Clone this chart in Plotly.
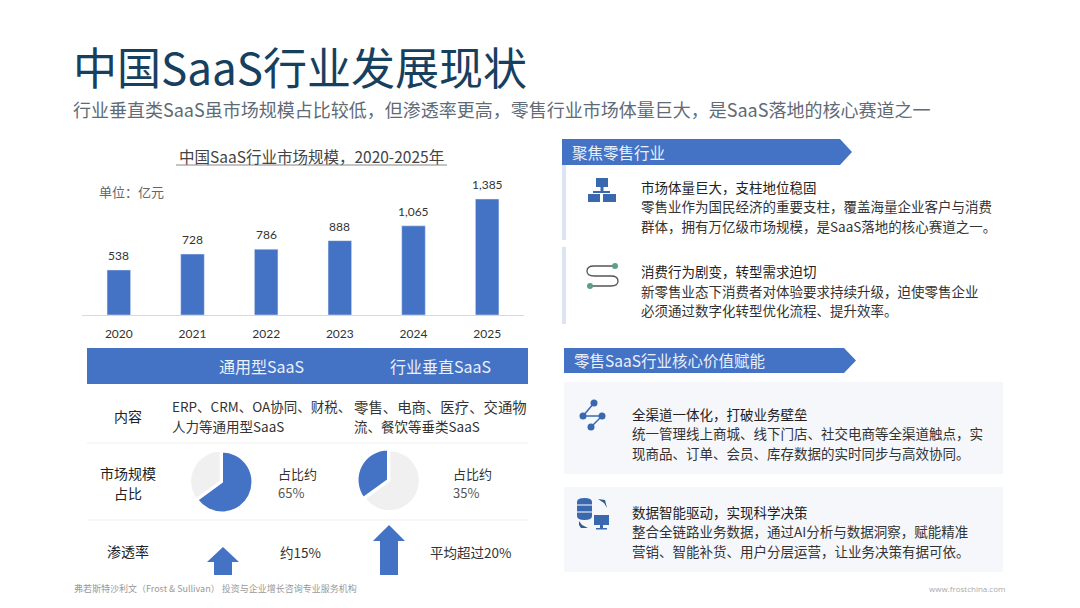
import plotly.graph_objects as go

years = ["2020", "2021", "2022", "2023", "2024", "2025"]
market_size = [538, 728, 786, 888, 1065, 1385]
value_labels = ["538", "728", "786", "888", "1,065", "1,385"]
general_share = [65, 35]
vertical_share = [35, 65]

W, H = 1080, 608
BLUE = "#4472C4"
ICON = "#3A68AE"
TEAL = "#5E9E8E"
CJK = "Noto Sans CJK SC"


def fx(x):
    return x / W


def fy(y):
    return 1 - y / H


def pt(x, y):
    return f"{fx(x):.5f},{fy(y):.5f}"


def poly(points):
    return "M" + " L".join(pt(x, y) for x, y in points) + " Z"


annotations = []
shapes = []


def txt(x, y, s, size=13.5, color="#333333", anchor="left", font=CJK):
    annotations.append(dict(
        xref="paper", yref="paper", x=fx(x), y=fy(y), text=s, showarrow=False,
        xanchor=anchor, yanchor="middle", font=dict(family=font, size=size, color=color),
    ))


def rect(x0, y0, x1, y1, color):
    shapes.append(dict(type="rect", xref="paper", yref="paper", x0=fx(x0), x1=fx(x1),
                       y0=fy(y0), y1=fy(y1), fillcolor=color, line_width=0, layer="below"))


def line(x0, y0, x1, y1, color, width=1):
    shapes.append(dict(type="line", xref="paper", yref="paper", x0=fx(x0), x1=fx(x1),
                       y0=fy(y0), y1=fy(y1), line=dict(color=color, width=width)))


def dot(cx, cy, r, color):
    shapes.append(dict(type="circle", xref="paper", yref="paper", x0=fx(cx - r), x1=fx(cx + r),
                       y0=fy(cy - r), y1=fy(cy + r), fillcolor=color, line_width=0))


def path(d, fill=None, color=None, width=0):
    shapes.append(dict(type="path", xref="paper", yref="paper", path=d, fillcolor=fill,
                       line=dict(color=color, width=width)))


def banner(x0, y0, x1, y1):
    mid = (y0 + y1) / 2
    path(poly([(x0, y0), (x1 - 12, y0), (x1, mid), (x1 - 12, y1), (x0, y1)]), fill=BLUE)


def up_arrow(cx, tip, base, bottom):
    path(poly([(cx, tip), (cx + 16, base), (cx + 9, base), (cx + 9, bottom),
               (cx - 9, bottom), (cx - 9, base), (cx - 16, base)]), fill=BLUE)


def pie_domain(cx, cy, r):
    return dict(x=[fx(cx - r), fx(cx + r)], y=[fy(cy + r), fy(cy - r)])


fig = go.Figure()

fig.add_trace(go.Bar(x=years, y=market_size, marker_color=BLUE, width=0.32,
                     hoverinfo="skip", showlegend=False))
# numeric-looking categories have to be addressed by position in annotations
for i, (v, lab) in enumerate(zip(market_size, value_labels)):
    annotations.append(dict(xref="x", yref="y", x=i, y=v, text=lab, showarrow=False, yanchor="bottom",
                            yshift=5, font=dict(family="Lato", size=12, color="#333333")))

fig.add_trace(go.Pie(values=general_share, sort=False, direction="clockwise", rotation=0,
                     marker=dict(colors=[BLUE, "#F0F0F0"], line=dict(color="white", width=2)),
                     pull=[0, 0.05], textinfo="none", hoverinfo="skip", showlegend=False,
                     domain=pie_domain(222, 482, 32)))
fig.add_trace(go.Pie(values=vertical_share, sort=False, direction="clockwise", rotation=234,
                     marker=dict(colors=[BLUE, "#F0F0F0"], line=dict(color="white", width=2)),
                     pull=[0, 0.05], textinfo="none", hoverinfo="skip", showlegend=False,
                     domain=pie_domain(388, 480, 32)))

# heading
txt(71, 66, "中国SaaS行业发展现状", size=44, color="#17405F")
txt(71, 109, "行业垂直类SaaS虽市场规模占比较低，但渗透率更高，零售行业市场体量巨大，是SaaS落地的核心赛道之一", size=18, color="#5F6B75")

# bar chart
txt(312, 156, "中国SaaS行业市场规模，2020-2025年", size=15.5, color="#444444", anchor="center")
line(176, 165, 447, 165, "#888888", 1)
txt(97, 191, "单位：亿元", size=13, color="#666666")

# comparison table
rect(87, 348, 528, 384, BLUE)
txt(261, 366, "通用型SaaS", size=16, color="#EAF0FA", anchor="center")
txt(440, 366, "行业垂直SaaS", size=16, color="#EAF0FA", anchor="center")
line(87, 443, 528, 443, "#EFEFEF")
line(87, 520, 528, 520, "#EFEFEF")

txt(128, 416, "内容", size=14, color="#222222", anchor="center")
txt(170, 406, "ERP、CRM、OA协同、财税、", size=13.5)
txt(170, 426, "人力等通用型SaaS", size=13.5)
txt(352, 406, "零售、电商、医疗、交通物", size=14.4)
txt(352, 426, "流、餐饮等垂类SaaS", size=13.5)

txt(128, 473, "市场规模", size=14, color="#222222", anchor="center")
txt(128, 493, "占比", size=14, color="#222222", anchor="center")
txt(276, 473, "占比约", size=13)
txt(276, 492, "65%", size=13, color="#555555")
txt(451, 473, "占比约", size=13)
txt(451, 492, "35%", size=13, color="#555555")

txt(128, 551, "渗透率", size=14, color="#222222", anchor="center")
txt(278, 552, "约15%", size=13.5)
txt(428, 552, "平均超过20%", size=13.5)
up_arrow(223, 547, 562, 575)
up_arrow(389, 525, 541, 575)

# footer
txt(72, 588, "弗若斯特沙利文（Frost & Sullivan） 投资与企业增长咨询专业服务机构", size=9, color="#999999")
txt(1007, 588, "www.frostchina.com", size=8, color="#AAAAAA", anchor="right", font="Open Sans")

# right column, first block
banner(562, 139, 852, 165)
txt(570, 152, "聚焦零售行业", size=15.5, color="#EAF0FA")
rect(562, 165, 566, 240, "#DCE3F1")
rect(562, 247, 566, 324, "#DCE3F1")
txt(639, 187, "市场体量巨大，支柱地位稳固", color="#222222")
txt(639, 206, "零售业作为国民经济的重要支柱，覆盖海量企业客户与消费")
txt(639, 226, "群体，拥有万亿级市场规模，是SaaS落地的核心赛道之一。")
txt(639, 271, "消费行为剧变，转型需求迫切", color="#222222")
txt(639, 291, "新零售业态下消费者对体验要求持续升级，迫使零售企业")
txt(639, 310, "必须通过数字化转型优化流程、提升效率。")

# org chart icon
rect(596, 178, 608, 187, ICON)
rect(600.5, 187, 603.5, 192, ICON)
rect(593, 191, 610, 193, ICON)
rect(588, 194, 600, 202, ICON)
rect(603, 194, 616, 202, ICON)

# route icon
path(f"M{pt(615, 266)} L{pt(594, 266)} Q{pt(587, 266)} {pt(587, 271)} Q{pt(587, 276)} {pt(594, 276)} "
     f"L{pt(611, 276)} Q{pt(618, 276)} {pt(618, 281)} Q{pt(618, 286)} {pt(611, 286)} L{pt(590, 286)}",
     color="#555555", width=1.3)
dot(615, 266, 3, TEAL)
dot(590, 286, 3, TEAL)

# right column, second block
banner(564, 348, 856, 373)
txt(572, 360, "零售SaaS行业核心价值赋能", size=15.5, color="#EAF0FA")
rect(564, 382, 1003, 474, "#F5F7FB")
rect(564, 487, 1003, 572, "#F5F7FB")
txt(630, 414, "全渠道一体化，打破业务壁垒", color="#222222")
txt(630, 433, "统一管理线上商城、线下门店、社交电商等全渠道触点，实")
txt(630, 453, "现商品、订单、会员、库存数据的实时同步与高效协同。")
txt(630, 512, "数据智能驱动，实现科学决策", color="#222222")
txt(630, 531, "整合全链路业务数据，通过AI分析与数据洞察，赋能精准")
txt(630, 551, "营销、智能补货、用户分层运营，让业务决策有据可依。")

# share icon
line(594, 403, 583, 416, ICON, 1.5)
line(583, 416, 602, 416, ICON, 1.5)
line(602, 416, 591, 427, ICON, 1.5)
dot(594, 403, 3.5, ICON)
dot(583, 416, 3.5, ICON)
dot(602, 416, 3.5, ICON)
dot(591, 427, 3.5, ICON)

# data to screen icon
path(f"M{pt(577, 502)} Q{pt(577, 498)} {pt(584.5, 498)} Q{pt(592, 498)} {pt(592, 502)} L{pt(592, 516)} "
     f"Q{pt(592, 520)} {pt(584.5, 520)} Q{pt(577, 520)} {pt(577, 516)} Z", fill=ICON)
line(577, 505, 592, 505, "white", 1)
line(577, 512, 592, 512, "white", 1)
rect(594, 515, 609, 525, ICON)
rect(600, 525, 603, 528, ICON)
rect(596, 528, 607, 529.5, ICON)
path(poly([(598, 499), (605, 500), (607, 508), (604, 503)]), fill="#2F5C8F")
path(poly([(579, 521), (582, 525), (588, 528), (581, 528), (579, 525)]), fill="#2F5C8F")

fig.update_layout(
    width=W, height=H,
    margin=dict(l=0, r=0, t=0, b=0),
    paper_bgcolor="white", plot_bgcolor="rgba(0,0,0,0)",
    annotations=annotations, shapes=shapes,
    xaxis=dict(domain=[fx(82), fx(524)], type="category", range=[-0.5, 5.5], showgrid=False, zeroline=False,
               showline=True, linecolor="#D9D9D9", ticks="", ticklabelstandoff=8,
               tickfont=dict(family="Lato", size=12, color="#333333")),
    yaxis=dict(domain=[fy(315), fy(189.4)], range=[0, 1500], visible=False),
)

# the page's default body margin would push everything 8px off
fig.write_html("out.html", config={"displayModeBar": False},
               post_script="document.body.style.margin = '0';")
